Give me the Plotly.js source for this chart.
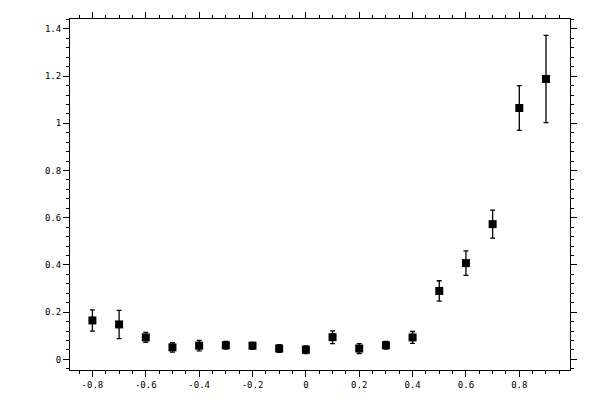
<!DOCTYPE html>
<html>
<head>
<meta charset="utf-8">
<script src="https://cdn.plot.ly/plotly-3.0.1.min.js"></script>
<style>html,body{margin:0;padding:0;background:#fff;}#chart{width:600px;height:400px;}</style>
</head>
<body>
<div id="chart"></div>
<script>
var xValues = [-0.8, -0.7, -0.6, -0.5, -0.4, -0.3, -0.2, -0.1, 0, 0.1, 0.2, 0.3, 0.4, 0.5, 0.6, 0.7, 0.8, 0.9];
var yValues = [0.165, 0.148, 0.093, 0.051, 0.058, 0.060, 0.058, 0.046, 0.041, 0.094, 0.046, 0.060, 0.093, 0.290, 0.408, 0.573, 1.065, 1.188];
var yErrors = [0.045, 0.060, 0.021, 0.020, 0.022, 0.016, 0.014, 0.016, 0.016, 0.027, 0.021, 0.016, 0.025, 0.043, 0.052, 0.059, 0.095, 0.185];
var xTickVals = [-0.8, -0.6, -0.4, -0.2, 0, 0.2, 0.4, 0.6, 0.8];
var xTickText = ["-0.8", "-0.6", "-0.4", "-0.2", "0", "0.2", "0.4", "0.6", "0.8"];
var yTickVals = [0, 0.2, 0.4, 0.6, 0.8, 1, 1.2, 1.4];
var yTickText = ["0", "0.2", "0.4", "0.6", "0.8", "1", "1.2", "1.4"];

var trace = {
  x: xValues,
  y: yValues,
  type: 'scatter',
  mode: 'markers',
  marker: {symbol: 'square', size: 8, color: '#000'},
  error_y: {type: 'data', array: yErrors, visible: true, color: '#000', thickness: 1.3, width: 2.5},
  showlegend: false,
  hoverinfo: 'none'
};

var axisFont = {family: 'DejaVu Sans Mono, monospace', size: 9, color: '#000'};

var layout = {
  width: 600,
  height: 400,
  margin: {l: 70, r: 30, t: 19, b: 30, pad: 0},
  paper_bgcolor: '#fff',
  plot_bgcolor: '#fff',
  xaxis: {
    range: [-0.884, 0.990],
    tickmode: 'array',
    tickvals: xTickVals,
    ticktext: xTickText,
    ticks: 'outside',
    ticklen: 6,
    tickwidth: 1,
    tickcolor: '#000',
    showline: true,
    linecolor: '#000',
    linewidth: 1,
    mirror: 'ticks',
    showgrid: false,
    zeroline: false,
    tickfont: axisFont,
    minor: {dtick: 0.05, tick0: 0, ticks: 'outside', ticklen: 3, tickcolor: '#000', tickwidth: 1, showgrid: false}
  },
  yaxis: {
    range: [-0.045, 1.442],
    tickmode: 'array',
    tickvals: yTickVals,
    ticktext: yTickText,
    ticks: 'outside',
    ticklen: 6,
    tickwidth: 1,
    tickcolor: '#000',
    showline: true,
    linecolor: '#000',
    linewidth: 1,
    mirror: 'ticks',
    showgrid: false,
    zeroline: false,
    tickfont: axisFont,
    minor: {dtick: 0.04, tick0: 0, ticks: 'outside', ticklen: 3, tickcolor: '#000', tickwidth: 1, showgrid: false}
  }
};

Plotly.newPlot('chart', [trace], layout, {staticPlot: true, displayModeBar: false});
</script>
</body>
</html>
